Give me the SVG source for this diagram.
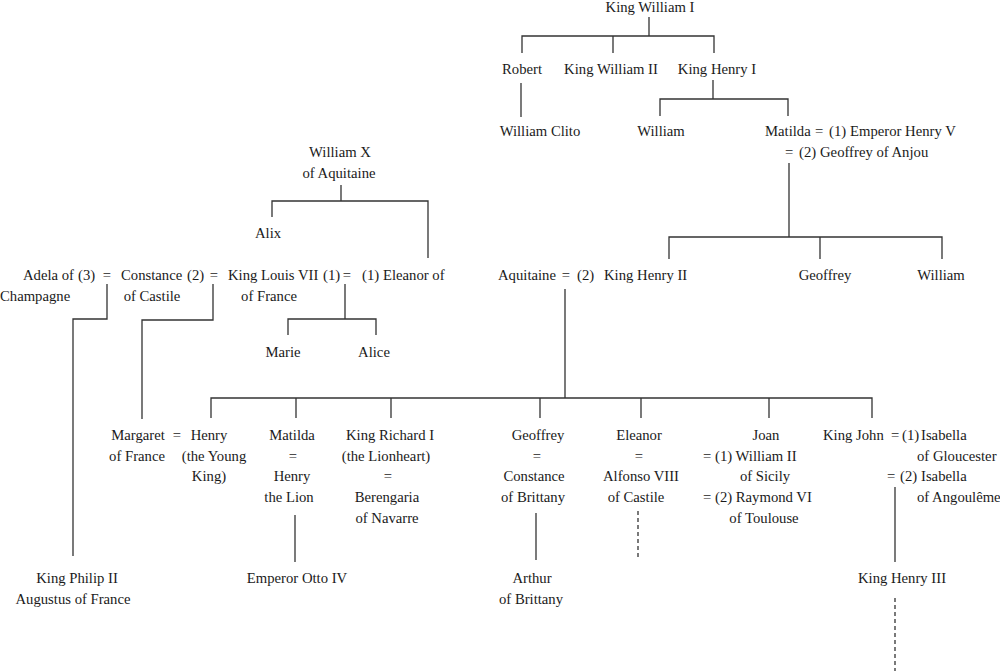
<svg xmlns="http://www.w3.org/2000/svg" width="1000" height="671" viewBox="0 0 1000 671">
<style>
text{font-family:"Liberation Serif","Times New Roman",serif;font-size:14.7px;fill:#1a1a1a}
.m{text-anchor:middle}
.s{text-anchor:start}
.ln{fill:none;stroke:#333;stroke-width:1.3}
.dash{stroke-dasharray:4 3}
</style>
<rect width="1000" height="671" fill="#fff"/>
<g id="connectors">
<path class="ln" d="M649,17 V36 M522,53 V36 H714 V53 M613,36 V53"/>
<path class="ln" d="M521,83 V117"/>
<path class="ln" d="M713,80 V99 M660,116 V99 H788 V116"/>
<path class="ln" d="M789,163 V237 M669,259 V237 H942 V259 M820,237 V259"/>
<path class="ln" d="M341,185 V201 M272,217 V201 H428 V258"/>
<path class="ln" d="M107,284 V319 H73 V556"/>
<path class="ln" d="M213,284 V320 H142 V419"/>
<path class="ln" d="M345,284 V319 M288,335 V319 H376 V335"/>
<path class="ln" d="M565,289 V398 M211,418 V398 H872 V418 M296,398 V418 M391,398 V418 M540,398 V418 M641,398 V418 M769,398 V418"/>
<path class="ln" d="M295,515 V562"/>
<path class="ln" d="M536,513 V560"/>
<path class="ln dash" d="M638,511 V558"/>
<path class="ln" d="M895,487 V562"/>
<path class="ln dash" d="M895,598 V671"/>
</g>
<g id="william1"><text class="m" x="650" y="12">King William I</text></g>
<g id="robert"><text class="m" x="522" y="74">Robert</text></g>
<g id="william2"><text class="m" x="611" y="74">King William II</text></g>
<g id="henry1"><text class="m" x="717" y="74">King Henry I</text></g>
<g id="clito"><text class="m" x="540" y="136">William Clito</text></g>
<g id="william-aetheling"><text class="m" x="661" y="136">William</text></g>
<g id="matilda-empress">
<text class="s" y="136"><tspan x="765">Matilda</tspan><tspan x="815">=</tspan><tspan x="829">(1)</tspan><tspan x="850">Emperor Henry V</tspan></text>
<text class="s" y="157"><tspan x="785">=</tspan><tspan x="799">(2)</tspan><tspan x="820">Geoffrey of Anjou</tspan></text>
</g>
<g id="williamx"><text class="m" x="340" y="157">William X</text><text class="m" x="339" y="178">of Aquitaine</text></g>
<g id="alix"><text class="m" x="268" y="238">Alix</text></g>
<g id="adela"><text class="s" x="23" y="280">Adela of</text><text class="s" x="0" y="301">Champagne</text></g>
<g id="m-adela"><text class="s" x="78" y="280">(3)</text><text class="m" x="107" y="280">=</text></g>
<g id="constance-castile"><text class="s" x="121" y="280">Constance</text><text class="m" x="152" y="301">of Castile</text></g>
<g id="m-constance"><text class="s" x="187" y="280">(2)</text><text class="m" x="214" y="280">=</text></g>
<g id="louis7"><text class="s" x="228" y="280">King Louis VII</text><text class="m" x="269" y="301">of France</text></g>
<g id="m-louis"><text class="s" x="323" y="280">(1)</text><text class="m" x="347" y="280">=</text><text class="s" x="362" y="280">(1)</text></g>
<g id="eleanor-aquitaine"><text class="s" x="383" y="280">Eleanor of</text><text class="s" x="498" y="280">Aquitaine</text></g>
<g id="m-henry2"><text class="m" x="566" y="280">=</text><text class="s" x="577" y="280">(2)</text></g>
<g id="henry2"><text class="s" x="604" y="280">King Henry II</text></g>
<g id="geoffrey-nantes"><text class="m" x="825" y="280">Geoffrey</text></g>
<g id="william-anjou"><text class="m" x="941" y="280">William</text></g>
<g id="marie"><text class="m" x="283" y="357">Marie</text></g>
<g id="alice"><text class="m" x="374" y="357">Alice</text></g>
<g id="margaret"><text class="m" x="138" y="440">Margaret</text><text class="m" x="137" y="461">of France</text><text class="m" x="177" y="440">=</text></g>
<g id="henry-young"><text class="m" x="209" y="440">Henry</text><text class="m" x="214" y="461">(the Young</text><text class="m" x="209" y="481">King)</text></g>
<g id="matilda-saxony"><text class="m" x="292" y="440">Matilda</text><text class="m" x="293" y="461">=</text><text class="m" x="292" y="481">Henry</text><text class="m" x="289" y="502">the Lion</text></g>
<g id="richard1"><text class="m" x="390" y="440">King Richard I</text><text class="m" x="386" y="461">(the Lionheart)</text><text class="m" x="388" y="481">=</text><text class="m" x="387" y="502">Berengaria</text><text class="m" x="387" y="523">of Navarre</text></g>
<g id="geoffrey-brittany"><text class="m" x="538" y="440">Geoffrey</text><text class="m" x="537" y="461">=</text><text class="m" x="534" y="481">Constance</text><text class="m" x="533" y="502">of Brittany</text></g>
<g id="eleanor-castile"><text class="m" x="639" y="440">Eleanor</text><text class="m" x="639" y="461">=</text><text class="m" x="641" y="481">Alfonso VIII</text><text class="m" x="636" y="502">of Castile</text></g>
<g id="joan"><text class="m" x="766" y="440">Joan</text><text class="s" y="461"><tspan x="703">=</tspan><tspan x="715">(1) William II</tspan></text><text class="m" x="765" y="481">of Sicily</text><text class="s" y="502"><tspan x="703">=</tspan><tspan x="715">(2) Raymond VI</tspan></text><text class="m" x="764" y="523">of Toulouse</text></g>
<g id="john"><text class="s" y="440"><tspan x="823">King John</tspan><tspan x="891">=</tspan><tspan x="902">(1)</tspan><tspan x="921">Isabella</tspan></text><text class="s" x="917" y="461">of Gloucester</text><text class="s" y="481"><tspan x="887">=</tspan><tspan x="900">(2)</tspan><tspan x="921">Isabella</tspan></text><text class="s" x="917" y="502">of Angoulême</text></g>
<g id="philip2"><text class="m" x="77" y="583">King Philip II</text><text class="m" x="73" y="604">Augustus of France</text></g>
<g id="otto4"><text class="m" x="297" y="583">Emperor Otto IV</text></g>
<g id="arthur"><text class="m" x="532" y="583">Arthur</text><text class="m" x="531" y="604">of Brittany</text></g>
<g id="henry3"><text class="m" x="902" y="583">King Henry III</text></g>
</svg>
